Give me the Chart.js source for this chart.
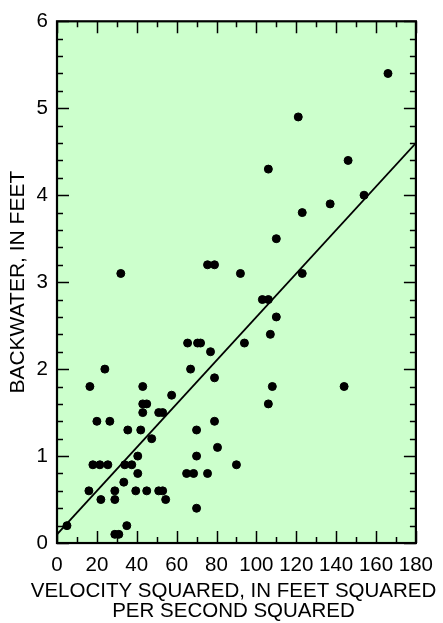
<!DOCTYPE html>
<html>
<head>
<meta charset="utf-8">
<script src="https://cdn.jsdelivr.net/npm/chart.js@4/dist/chart.umd.min.js"></script>
<style>
html, body { margin: 0; padding: 0; background: #ffffff; }
#box { width: 443px; height: 623px; }
</style>
</head>
<body>
<div id="box"><canvas id="chart"></canvas></div>
<script>
// ----------------------------------------------------------------------
const velocitySquared = [166,121,146,106,154,137,123,110,92,123,
    103,106,110,107,94,32,75.5,79,65.5,70.5,
    72,77,24,67,79,16.5,43,57.5,43,45,
    43,51,53,20,26.5,79,35.5,42,70,47.5,
    80.5,40.5,70,18,21.5,25.5,34,37.5,90,40.5,
    65,68.5,75.5,33.5,16,29,39.5,45,51,53,
    22,29,54.5,70,35,5,29,31,108,144,106]

const backwater = [5.4,4.9,4.4,4.3,4.0,3.9,3.8,3.5,3.1,3.1,
    2.8,2.8,2.6,2.4,2.3,3.1,3.2,3.2,2.3,2.3,
    2.3,2.2,2.0,2.0,1.9,1.8,1.8,1.7,1.6,1.6,
    1.5,1.5,1.5,1.4,1.4,1.4,1.3,1.3,1.3,1.2,
    1.1,1.0,1.0,0.9,0.9,0.9,0.9,0.9,0.9,0.8,
    0.8,0.8,0.8,0.7,0.6,0.6,0.6,0.6,0.6,0.6,
    0.5,0.5,0.5,0.4,0.2,0.2,0.1,0.1,1.8,1.8,1.6]

const fitX = [0, 180]
const fitY = [0.1, 4.6]

const xTicks = [0,20,40,60,80,100,120,140,160,180]
const yTicks = [0,1,2,3,4,5,6]

const xTitle = ['VELOCITY SQUARED, IN FEET SQUARED', 'PER SECOND SQUARED']
const yTitle = 'BACKWATER, IN FEET'

// ----------------------------------------------------------------------
const font = "'Liberation Sans', Arial, sans-serif"

// inward ticks on all four sides plus the frame
const frameTicks = {
    id: 'frameTicks',
    beforeDraw (chart)
    {
        const a = chart.chartArea
        const ctx = chart.ctx
        ctx.save()
        ctx.fillStyle = '#ccffcc'
        ctx.fillRect(a.left, a.top, a.right - a.left, a.bottom - a.top)
        ctx.restore()
    },
    afterDraw (chart)
    {
        const a = chart.chartArea
        const ctx = chart.ctx
        const sx = chart.scales.x
        const sy = chart.scales.y
        ctx.save()
        ctx.strokeStyle = '#000'
        ctx.lineWidth = 1.5
        ctx.beginPath()
        for (let v = 0; v <= 180; v += 10) {
            const px = Math.round(sx.getPixelForValue(v)) + 0.5
            const len = (v % 20 === 0) ? 12 : 6
            ctx.moveTo(px, a.bottom); ctx.lineTo(px, a.bottom - len)
            ctx.moveTo(px, a.top); ctx.lineTo(px, a.top + len)
        }
        for (let i = 0; i <= 30; i++) {
            const py = Math.round(sy.getPixelForValue(i / 5)) + 0.5
            const len = (i % 5 === 0) ? 12 : 6
            ctx.moveTo(a.left, py); ctx.lineTo(a.left + len, py)
            ctx.moveTo(a.right, py); ctx.lineTo(a.right - len, py)
        }
        ctx.stroke()
        ctx.lineWidth = 2.2
        ctx.strokeRect(a.left, a.top, a.right - a.left, a.bottom - a.top)
        ctx.restore()
    }
}

// ----------------------------------------------------------------------
const points = velocitySquared.map((x, i) => ({ x: x, y: backwater[i] }))
const fitLine = fitX.map((x, i) => ({ x: x, y: fitY[i] }))

const config = {
    type: 'scatter',
    data: {
        datasets: [
            {
            data: points,
            backgroundColor: '#000',
            borderColor: '#000',
            pointRadius: 4,
            pointHoverRadius: 4
            },
            {
            data: fitLine,
            showLine: true,
            borderColor: '#000',
            borderWidth: 1.8,
            pointRadius: 0
            }
        ]
    },
    options: {
        responsive: true,
        maintainAspectRatio: false,
        animation: false,
        layout: { padding: { top: 15, right: 0, left: 24, bottom: 0 } },
        plugins: {
            legend: { display: false },
            tooltip: { enabled: false },
            title: {
                display: true,
                position: 'bottom',
                text: xTitle,
                color: '#000',
                font: { family: font, size: 20.5, weight: 'normal', lineHeight: 0.97 },
                padding: { top: 0, bottom: 2 }
            }
        },
        scales: {
            x: {
                type: 'linear',
                min: 0, max: 180,
                afterBuildTicks: (s) => { s.ticks = xTicks.map(v => ({ value: v })) },
                afterFit: (s) => { s.height = 38.2 },
                grid: { display: false, drawTicks: false },
                border: { display: false },
                ticks: {
                    autoSkip: false, maxRotation: 0, padding: 10,
                    color: '#000', font: { family: font, size: 20.5 }
                }
            },
            y: {
                type: 'linear',
                min: 0, max: 6,
                afterBuildTicks: (s) => { s.ticks = yTicks.map(v => ({ value: v })) },
                afterFit: (s) => { s.width = 33 },
                grid: { display: false, drawTicks: false },
                border: { display: false },
                ticks: {
                    padding: 9,
                    color: '#000', font: { family: font, size: 20.5 }
                },
                title: {
                    display: true,
                    text: yTitle,
                    color: '#000',
                    font: { family: font, size: 21 },
                    padding: { top: -18, bottom: 0 }
                }
            },
            y2: {
                type: 'linear',
                position: 'right',
                afterFit: (s) => { s.width = 26 },
                grid: { display: false, drawTicks: false },
                border: { display: false },
                ticks: { display: false }
            }
        }
    },
    plugins: [frameTicks]
}

const chart = new Chart(document.getElementById('chart'), config)
// ----------------------------------------------------------------------
</script>
</body>
</html>
